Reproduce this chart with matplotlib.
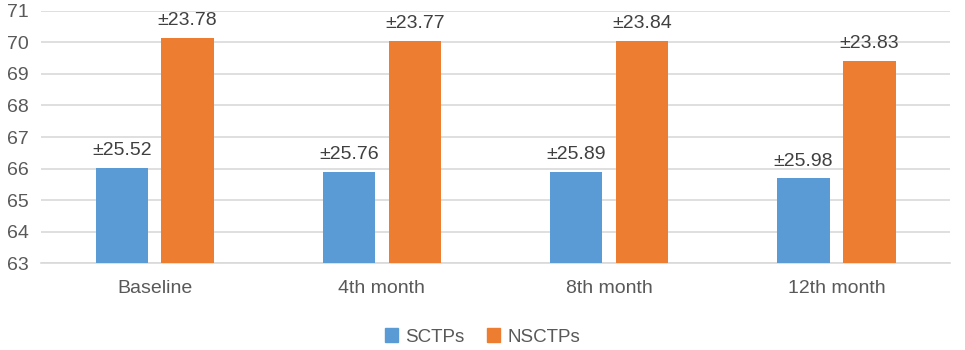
import numpy as np
import matplotlib.pyplot as plt
from matplotlib.patches import Patch

categories = ['Baseline', '4th month', '8th month', '12th month']
sctps = [66.03, 65.90, 65.90, 65.69]
nsctps = [70.15, 70.06, 70.06, 69.40]
sctps_sd = ['±25.52', '±25.76', '±25.89', '±25.98']
nsctps_sd = ['±23.78', '±23.77', '±23.84', '±23.83']

blue = '#5B9BD5'
orange = '#ED7D31'
text_col = '#595959'

plt.rcParams['font.family'] = ['Liberation Sans', 'DejaVu Sans']

fig = plt.figure(figsize=(9.65, 3.5), dpi=100)
ax = fig.add_axes([0.0425, 0.248, 0.942, 0.721])

x = np.arange(len(categories))
w = 0.23
off = 0.145
ax.bar(x - off, np.array(sctps) - 63, w, bottom=63, color=blue, zorder=3)
ax.bar(x + off, np.array(nsctps) - 63, w, bottom=63, color=orange, zorder=3)

# sd labels above bars
for xi, v, t in zip(x, sctps, sctps_sd):
    ax.text(xi - off, v + 0.28, t, ha='center', va='bottom', fontsize=14, color='#404040')
for xi, v, t in zip(x, nsctps, nsctps_sd):
    ax.text(xi + off, v + 0.28, t, ha='center', va='bottom', fontsize=14, color='#404040')

ax.set_ylim(63, 71)
ax.set_xlim(-0.5, 3.5)
ax.set_yticks(range(63, 72))
ax.set_xticks(x)
ax.set_xticklabels(categories)
ax.yaxis.grid(True, color='#D9D9D9', linewidth=1.2, zorder=0)
ax.tick_params(axis='both', length=0, labelsize=14, colors=text_col)
ax.tick_params(axis='x', pad=12)
ax.tick_params(axis='y', pad=9)
for s in ['top', 'right', 'left']:
    ax.spines[s].set_visible(False)
ax.spines['bottom'].set_color('#D9D9D9')
ax.spines['bottom'].set_linewidth(1.2)

handles = [Patch(color=blue, label='SCTPs'), Patch(color=orange, label='NSCTPs')]
fig.legend(handles=handles, loc='center', bbox_to_anchor=(0.5, 0.037), ncol=2, frameon=False,
           fontsize=13.5, handlelength=0.7, handleheight=0.7, handletextpad=0.4, columnspacing=1.2,
           labelcolor=text_col)

fig.savefig('out.png', dpi=100)
